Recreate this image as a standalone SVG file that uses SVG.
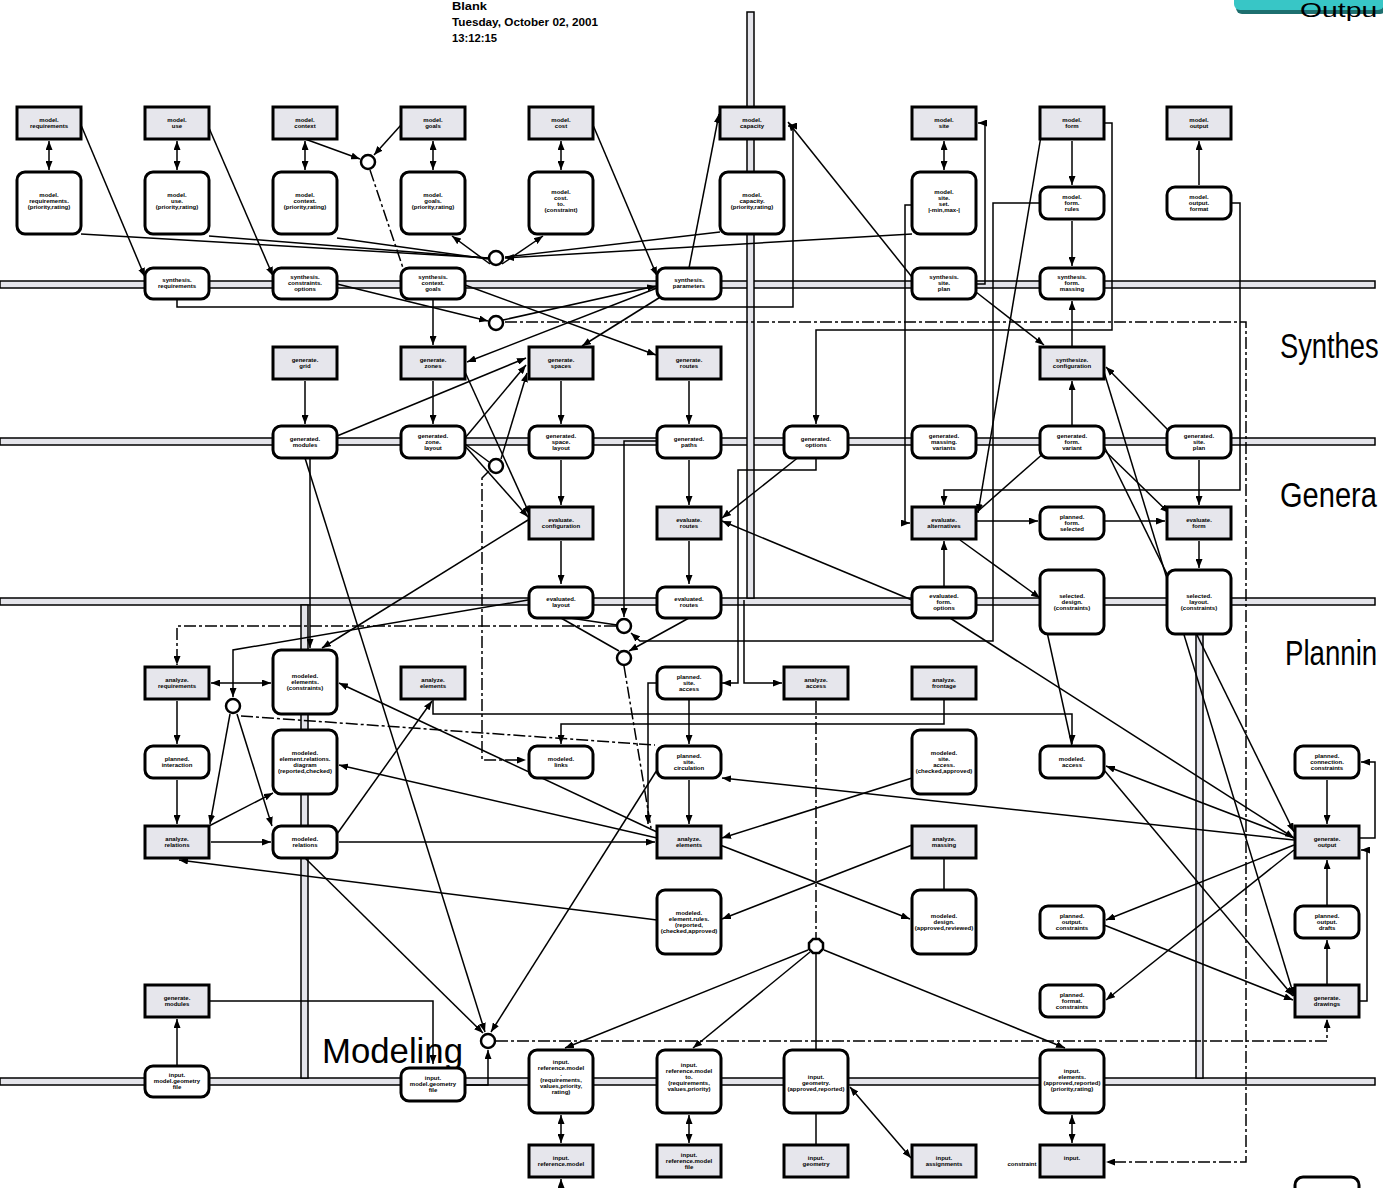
<svg xmlns="http://www.w3.org/2000/svg" width="1383" height="1188" viewBox="0 0 1383 1188">
<defs>
<marker id="a" markerUnits="userSpaceOnUse" markerWidth="9" markerHeight="7" refX="9" refY="3.5" orient="auto-start-reverse"><path d="M0,0 L9,3.5 L0,7 z" fill="#000"/></marker>
</defs>
<style>
.r{fill:#e6e6ec;stroke:#000;stroke-width:3}
.n{fill:#fff;stroke:#000;stroke-width:3}
.o{fill:#fff;stroke:#000;stroke-width:2.5}
.c{fill:none;stroke:#000;stroke-width:1.5}
.d{stroke-dasharray:12 3 3 3}
.band{fill:#e4e4ea;stroke:#000;stroke-width:1.5}
.t{font-family:"Liberation Sans",Arial,sans-serif;font-weight:bold;font-size:6px;text-anchor:middle;fill:#000}
.h{font-family:"Liberation Sans",Arial,sans-serif;font-weight:bold;font-size:11px;fill:#000}
.L{font-family:"Liberation Sans",Arial,sans-serif;font-size:35px;fill:#000}
</style>
<rect width="1383" height="1188" fill="#fff"/>

<g id="bands">
<rect class="band" x="0" y="281" width="1375" height="7"/>
<rect class="band" x="0" y="438" width="1375" height="7"/>
<rect class="band" x="0" y="598" width="1375" height="7"/>
<rect class="band" x="0" y="1078" width="1375" height="7"/>
<rect class="band" x="747" y="12" width="7" height="586"/>
<rect class="band" x="301" y="605" width="7" height="473"/>
<rect class="band" x="1196" y="634" width="7" height="444"/>
</g>

<g id="header">
<text class="h" x="452" y="10" textLength="35" lengthAdjust="spacingAndGlyphs">Blank</text>
<text class="h" x="452" y="26" textLength="146" lengthAdjust="spacingAndGlyphs">Tuesday, October 02, 2001</text>
<text class="h" x="452" y="42" textLength="45" lengthAdjust="spacingAndGlyphs">13:12:15</text>
<rect x="1236" y="-8" width="150" height="22" rx="6" fill="#1d6f6f"/>
<rect x="1234" y="-10" width="150" height="20" rx="6" fill="#38c6c6"/>
<text class="L" transform="translate(1300,17) scale(1.35,1)" style="font-size:21px">Outpu</text>
<text class="L" transform="translate(1280,358) scale(0.78,1)">Synthes</text>
<text class="L" transform="translate(1280,507) scale(0.83,1)">Genera</text>
<text class="L" transform="translate(1285,665) scale(0.79,1)">Plannin</text>
<text class="L" x="322" y="1063" textLength="141" lengthAdjust="spacingAndGlyphs">Modeling</text>
</g>

<g id="connectors">
<path class="c" d="M49,141 L49,170" marker-start="url(#a)" marker-end="url(#a)"/>
<path class="c" d="M177,141 L177,170" marker-start="url(#a)" marker-end="url(#a)"/>
<path class="c" d="M305,141 L305,170" marker-start="url(#a)" marker-end="url(#a)"/>
<path class="c" d="M433,141 L433,170" marker-start="url(#a)" marker-end="url(#a)"/>
<path class="c" d="M561,141 L561,170" marker-start="url(#a)" marker-end="url(#a)"/>
<path class="c" d="M944,141 L944,170" marker-start="url(#a)" marker-end="url(#a)"/>
<path class="c" d="M1072,141 L1072,185" marker-end="url(#a)"/>
<path class="c" d="M1199,185 L1199,141" marker-end="url(#a)"/>
<path class="c" d="M1072,221 L1072,266" marker-end="url(#a)"/>
<path class="c" d="M81,125 L145,277" marker-end="url(#a)"/>
<path class="c" d="M209,128 L273,276" marker-end="url(#a)"/>
<path class="c" d="M305,139 L360,159" marker-end="url(#a)"/>
<path class="c" d="M401,125 L374,155" marker-end="url(#a)"/>
<path class="c d" d="M370,170 L403,268"/>
<path class="c" d="M593,125 L657,276" marker-end="url(#a)"/>
<path class="c" d="M689,268 L719,114" marker-end="url(#a)"/>
<path class="c" d="M912,277 L788,122" marker-end="url(#a)"/>
<path class="c" d="M177,300 L177,307 L793,307 L793,126 L788,126" marker-end="url(#a)"/>
<path class="c" d="M81,234 L488,258"/>
<path class="c" d="M209,236 L488,258"/>
<path class="c" d="M337,238 L488,259"/>
<path class="c" d="M490,264 L452,236" marker-end="url(#a)"/>
<path class="c" d="M502,264 L543,236" marker-end="url(#a)"/>
<path class="c" d="M720,232 L505,257"/>
<path class="c" d="M912,234 L505,258" marker-end="url(#a)"/>
<path class="c" d="M337,284 L488,321" marker-end="url(#a)"/>
<path class="c" d="M503,320 L656,286" marker-end="url(#a)"/>
<path class="c" d="M465,285 L656,355" marker-end="url(#a)"/>
<path class="c" d="M657,288 L467,362" marker-end="url(#a)"/>
<path class="c" d="M662,296 L582,346" marker-end="url(#a)"/>
<path class="c" d="M433,300 L433,345" marker-end="url(#a)"/>
<path class="c d" d="M505,322 L1246,322 L1246,1162 L1106,1162" marker-end="url(#a)"/>
<path class="c" d="M976,284 L985,284 L985,123 L978,123" marker-end="url(#a)"/>
<path class="c" d="M1040,203 L993,203 L993,641 L640,641 L631,633" marker-end="url(#a)"/>
<path class="c" d="M912,205 L905,205 L905,523 L910,523" marker-end="url(#a)"/>
<path class="c" d="M1231,203 L1240,203 L1240,490 L944,490 L944,505" marker-end="url(#a)"/>
<path class="c" d="M1104,123 L1112,123 L1112,330 L816,330 L816,424" marker-end="url(#a)"/>
<path class="c" d="M1042,130 L978,513" marker-end="url(#a)"/>
<path class="c" d="M976,292 L1044,345" marker-end="url(#a)"/>
<path class="c" d="M1072,347 L1072,301" marker-end="url(#a)"/>
<path class="c" d="M1072,426 L1072,381" marker-end="url(#a)"/>
<path class="c" d="M1170,432 L1106,367" marker-end="url(#a)"/>
<path class="c" d="M1104,372 L1294,996" marker-end="url(#a)"/>
<path class="c" d="M1104,450 L1169,513" marker-end="url(#a)"/>
<path class="c" d="M1104,446 L1294,832" marker-end="url(#a)"/>
<path class="c" d="M1199,460 L1199,505" marker-end="url(#a)"/>
<path class="c" d="M305,381 L305,424" marker-end="url(#a)"/>
<path class="c" d="M433,381 L433,424" marker-end="url(#a)"/>
<path class="c" d="M561,381 L561,424" marker-end="url(#a)"/>
<path class="c" d="M689,381 L689,424" marker-end="url(#a)"/>
<path class="c" d="M337,436 L526,358" marker-end="url(#a)"/>
<path class="c" d="M465,438 L526,365" marker-end="url(#a)"/>
<path class="c" d="M465,372 L530,515" marker-end="url(#a)"/>
<path class="c" d="M465,446 L528,517" marker-end="url(#a)"/>
<path class="c" d="M465,444 L489,462"/>
<path class="c" d="M501,459 L527,373" marker-end="url(#a)"/>
<path class="c d" d="M489,471 L482,478 L482,760 L526,760" marker-end="url(#a)"/>
<path class="c" d="M657,441 L624,441 L624,617" marker-end="url(#a)"/>
<path class="c" d="M561,460 L561,505" marker-end="url(#a)"/>
<path class="c" d="M689,460 L689,505" marker-end="url(#a)"/>
<path class="c" d="M561,541 L561,584" marker-end="url(#a)"/>
<path class="c" d="M689,541 L689,584" marker-end="url(#a)"/>
<path class="c" d="M800,456 L722,518" marker-end="url(#a)"/>
<path class="c" d="M976,521 L1038,521" marker-end="url(#a)"/>
<path class="c" d="M1104,521 L1165,521" marker-end="url(#a)"/>
<path class="c" d="M977,512 L1045,452"/>
<path class="c" d="M1199,541 L1199,568" marker-end="url(#a)"/>
<path class="c" d="M944,586 L944,541" marker-end="url(#a)"/>
<path class="c" d="M960,540 L1040,598" marker-end="url(#a)"/>
<path class="c" d="M912,600 L722,521" marker-end="url(#a)"/>
<path class="c" d="M950,618 L1294,838" marker-end="url(#a)"/>
<path class="c" d="M561,618 L619,651"/>
<path class="c" d="M689,618 L629,651" marker-end="url(#a)"/>
<path class="c" d="M570,618 L617,625"/>
<path class="c d" d="M616,626 L177,626 L177,665" marker-end="url(#a)"/>
<path class="c d" d="M624,666 L651,828"/>
<path class="c" d="M816,458 L816,470 L738,470 L738,683 L722,683" marker-end="url(#a)"/>
<path class="c" d="M744,600 L744,683 L782,683" marker-end="url(#a)"/>
<path class="c" d="M657,683 L648,683 L648,824" marker-end="url(#a)"/>
<path class="c" d="M177,701 L177,744" marker-end="url(#a)"/>
<path class="c" d="M177,780 L177,824" marker-end="url(#a)"/>
<path class="c" d="M211,683 L271,683" marker-start="url(#a)" marker-end="url(#a)"/>
<path class="c" d="M528,520 L322,648" marker-end="url(#a)"/>
<path class="c" d="M528,600 L233,650 L233,697" marker-end="url(#a)"/>
<path class="c" d="M230,714 L210,824" marker-end="url(#a)"/>
<path class="c" d="M237,714 L272,826" marker-end="url(#a)"/>
<path class="c d" d="M241,716 L655,745"/>
<path class="c" d="M310,458 L310,648" marker-end="url(#a)"/>
<path class="c" d="M657,832 L339,683" marker-end="url(#a)"/>
<path class="c" d="M657,838 L339,765" marker-end="url(#a)"/>
<path class="c" d="M209,826 L273,793" marker-end="url(#a)"/>
<path class="c" d="M211,842 L271,842" marker-end="url(#a)"/>
<path class="c" d="M339,842 L655,842" marker-end="url(#a)"/>
<path class="c" d="M337,834 L432,701" marker-end="url(#a)"/>
<path class="c" d="M433,699 L433,714 L1072,714 L1072,744" marker-end="url(#a)"/>
<path class="c" d="M944,699 L944,724 L561,724 L561,744" marker-end="url(#a)"/>
<path class="c" d="M305,458 L485,1032" marker-end="url(#a)"/>
<path class="c" d="M305,858 L483,1033" marker-end="url(#a)"/>
<path class="c" d="M657,770 L491,1032" marker-end="url(#a)"/>
<path class="c" d="M657,920 L179,860" marker-end="url(#a)"/>
<path class="c" d="M689,780 L689,824" marker-end="url(#a)"/>
<path class="c" d="M689,699 L689,744" marker-end="url(#a)"/>
<path class="c" d="M912,778 L722,838" marker-end="url(#a)"/>
<path class="c" d="M720,845 L910,919" marker-end="url(#a)"/>
<path class="c" d="M912,845 L722,919" marker-end="url(#a)"/>
<path class="c" d="M944,858 L944,890"/>
<path class="c" d="M1294,840 L722,778" marker-end="url(#a)"/>
<path class="c" d="M1294,838 L1106,766" marker-end="url(#a)"/>
<path class="c" d="M1294,845 L1106,920" marker-end="url(#a)"/>
<path class="c" d="M1294,850 L1106,1000" marker-end="url(#a)"/>
<path class="c" d="M1104,925 L1293,1000" marker-end="url(#a)"/>
<path class="c" d="M1104,770 L1293,996" marker-end="url(#a)"/>
<path class="c" d="M1327,780 L1327,824" marker-end="url(#a)"/>
<path class="c" d="M1327,906 L1327,860" marker-end="url(#a)"/>
<path class="c" d="M1327,985 L1327,940" marker-end="url(#a)"/>
<path class="c" d="M1359,1001 L1367,1001 L1367,850 L1361,850" marker-end="url(#a)"/>
<path class="c" d="M1359,838 L1375,838 L1375,762 L1361,762" marker-end="url(#a)"/>
<path class="c" d="M1072,746 L1040,600"/>
<path class="c d" d="M816,701 L816,938"/>
<path class="c" d="M816,954 L816,1050"/>
<path class="c" d="M808,950 L565,1048" marker-end="url(#a)"/>
<path class="c" d="M810,952 L693,1048" marker-end="url(#a)"/>
<path class="c" d="M824,950 L1065,1048" marker-end="url(#a)"/>
<path class="c" d="M209,1001 L433,1001 L433,1064" marker-end="url(#a)"/>
<path class="c" d="M177,1066 L177,1019" marker-end="url(#a)"/>
<path class="c" d="M465,1085 L488,1085 L488,1050" marker-end="url(#a)"/>
<path class="c d" d="M496,1041 L1327,1041 L1327,1019" marker-end="url(#a)"/>
<path class="c" d="M561,1115 L561,1143" marker-start="url(#a)" marker-end="url(#a)"/>
<path class="c" d="M689,1115 L689,1143" marker-start="url(#a)" marker-end="url(#a)"/>
<path class="c" d="M816,1113 L816,1145"/>
<path class="c" d="M1072,1115 L1072,1143" marker-start="url(#a)" marker-end="url(#a)"/>
<path class="c" d="M850,1087 L911,1158" marker-start="url(#a)" marker-end="url(#a)"/>
<path class="c" d="M561,1188 L561,1179" marker-end="url(#a)"/>
</g>

<g id="junctions">
<circle class="o" cx="368" cy="162" r="7"/>
<circle class="o" cx="496" cy="258" r="7"/>
<circle class="o" cx="496" cy="323" r="7"/>
<circle class="o" cx="496" cy="466" r="7"/>
<circle class="o" cx="624" cy="626" r="7"/>
<circle class="o" cx="624" cy="658" r="7"/>
<circle class="o" cx="233" cy="706" r="7"/>
<circle class="o" cx="488" cy="1041" r="7"/>
<polygon class="o" points="813,939 819,939 823,943 823,949 819,953 813,953 809,949 809,943"/>
</g>

<g id="r1a"><rect class="r" x="17" y="107" width="64" height="32"/><text class="t" x="49" y="122">model.<tspan x="49" dy="6">requirements</tspan></text></g>
<g id="r1b"><rect class="r" x="145" y="107" width="64" height="32"/><text class="t" x="177" y="122">model.<tspan x="177" dy="6">use</tspan></text></g>
<g id="r1c"><rect class="r" x="273" y="107" width="64" height="32"/><text class="t" x="305" y="122">model.<tspan x="305" dy="6">context</tspan></text></g>
<g id="r1d"><rect class="r" x="401" y="107" width="64" height="32"/><text class="t" x="433" y="122">model.<tspan x="433" dy="6">goals</tspan></text></g>
<g id="r1e"><rect class="r" x="529" y="107" width="64" height="32"/><text class="t" x="561" y="122">model.<tspan x="561" dy="6">cost</tspan></text></g>
<g id="r1f"><rect class="r" x="720" y="107" width="64" height="32"/><text class="t" x="752" y="122">model.<tspan x="752" dy="6">capacity</tspan></text></g>
<g id="r1g"><rect class="r" x="912" y="107" width="64" height="32"/><text class="t" x="944" y="122">model.<tspan x="944" dy="6">site</tspan></text></g>
<g id="r1h"><rect class="r" x="1040" y="107" width="64" height="32"/><text class="t" x="1072" y="122">model.<tspan x="1072" dy="6">form</tspan></text></g>
<g id="r1i"><rect class="r" x="1167" y="107" width="64" height="32"/><text class="t" x="1199" y="122">model.<tspan x="1199" dy="6">output</tspan></text></g>

<g id="m1a"><rect class="n" x="17" y="172" width="64" height="62" rx="8"/><text class="t" x="49" y="197">model.<tspan x="49" dy="6">requirements.</tspan><tspan x="49" dy="6">(priority,rating)</tspan></text></g>
<g id="m1b"><rect class="n" x="145" y="172" width="64" height="62" rx="8"/><text class="t" x="177" y="197">model.<tspan x="177" dy="6">use.</tspan><tspan x="177" dy="6">(priority,rating)</tspan></text></g>
<g id="m1c"><rect class="n" x="273" y="172" width="64" height="62" rx="8"/><text class="t" x="305" y="197">model.<tspan x="305" dy="6">context.</tspan><tspan x="305" dy="6">(priority,rating)</tspan></text></g>
<g id="m1d"><rect class="n" x="401" y="172" width="64" height="62" rx="8"/><text class="t" x="433" y="197">model.<tspan x="433" dy="6">goals.</tspan><tspan x="433" dy="6">(priority,rating)</tspan></text></g>
<g id="m1e"><rect class="n" x="529" y="172" width="64" height="62" rx="8"/><text class="t" x="561" y="194">model.<tspan x="561" dy="6">cost.</tspan><tspan x="561" dy="6">to.</tspan><tspan x="561" dy="6">(constraint)</tspan></text></g>
<g id="m1f"><rect class="n" x="720" y="172" width="64" height="62" rx="8"/><text class="t" x="752" y="197">model.<tspan x="752" dy="6">capacity.</tspan><tspan x="752" dy="6">(priority,rating)</tspan></text></g>
<g id="m1g"><rect class="n" x="912" y="172" width="64" height="62" rx="8"/><text class="t" x="944" y="194">model.<tspan x="944" dy="6">site.</tspan><tspan x="944" dy="6">set.</tspan><tspan x="944" dy="6">|-min,max-|</tspan></text></g>
<g id="m1h"><rect class="n" x="1040" y="187" width="64" height="32" rx="8"/><text class="t" x="1072" y="199">model.<tspan x="1072" dy="6">form.</tspan><tspan x="1072" dy="6">rules</tspan></text></g>
<g id="m1i"><rect class="n" x="1167" y="187" width="64" height="32" rx="8"/><text class="t" x="1199" y="199">model.<tspan x="1199" dy="6">output.</tspan><tspan x="1199" dy="6">format</tspan></text></g>

<g id="s2a"><rect class="n" x="145" y="268" width="64" height="31" rx="8"/><text class="t" x="177" y="282">synthesis.<tspan x="177" dy="6">requirements</tspan></text></g>
<g id="s2b"><rect class="n" x="273" y="268" width="64" height="31" rx="8"/><text class="t" x="305" y="279">synthesis.<tspan x="305" dy="6">constraints.</tspan><tspan x="305" dy="6">options</tspan></text></g>
<g id="s2c"><rect class="n" x="401" y="268" width="64" height="31" rx="8"/><text class="t" x="433" y="279">synthesis.<tspan x="433" dy="6">context.</tspan><tspan x="433" dy="6">goals</tspan></text></g>
<g id="s2d"><rect class="n" x="657" y="268" width="64" height="31" rx="8"/><text class="t" x="689" y="282">synthesis.<tspan x="689" dy="6">parameters</tspan></text></g>
<g id="s2e"><rect class="n" x="912" y="268" width="64" height="31" rx="8"/><text class="t" x="944" y="279">synthesis.<tspan x="944" dy="6">site.</tspan><tspan x="944" dy="6">plan</tspan></text></g>
<g id="s2f"><rect class="n" x="1040" y="268" width="64" height="31" rx="8"/><text class="t" x="1072" y="279">synthesis.<tspan x="1072" dy="6">form.</tspan><tspan x="1072" dy="6">massing</tspan></text></g>

<g id="r3a"><rect class="r" x="273" y="347" width="64" height="32"/><text class="t" x="305" y="362">generate.<tspan x="305" dy="6">grid</tspan></text></g>
<g id="r3b"><rect class="r" x="401" y="347" width="64" height="32"/><text class="t" x="433" y="362">generate.<tspan x="433" dy="6">zones</tspan></text></g>
<g id="r3c"><rect class="r" x="529" y="347" width="64" height="32"/><text class="t" x="561" y="362">generate.<tspan x="561" dy="6">spaces</tspan></text></g>
<g id="r3d"><rect class="r" x="657" y="347" width="64" height="32"/><text class="t" x="689" y="362">generate.<tspan x="689" dy="6">routes</tspan></text></g>
<g id="r3e"><rect class="r" x="1040" y="347" width="64" height="32"/><text class="t" x="1072" y="362">synthesize.<tspan x="1072" dy="6">configuration</tspan></text></g>

<g id="g4a"><rect class="n" x="273" y="426" width="64" height="32" rx="8"/><text class="t" x="305" y="441">generated.<tspan x="305" dy="6">modules</tspan></text></g>
<g id="g4b"><rect class="n" x="401" y="426" width="64" height="32" rx="8"/><text class="t" x="433" y="438">generated.<tspan x="433" dy="6">zone.</tspan><tspan x="433" dy="6">layout</tspan></text></g>
<g id="g4c"><rect class="n" x="529" y="426" width="64" height="32" rx="8"/><text class="t" x="561" y="438">generated.<tspan x="561" dy="6">space.</tspan><tspan x="561" dy="6">layout</tspan></text></g>
<g id="g4d"><rect class="n" x="657" y="426" width="64" height="32" rx="8"/><text class="t" x="689" y="441">generated.<tspan x="689" dy="6">paths</tspan></text></g>
<g id="g4e"><rect class="n" x="784" y="426" width="64" height="32" rx="8"/><text class="t" x="816" y="441">generated.<tspan x="816" dy="6">options</tspan></text></g>
<g id="g4f"><rect class="n" x="912" y="426" width="64" height="32" rx="8"/><text class="t" x="944" y="438">generated.<tspan x="944" dy="6">massing.</tspan><tspan x="944" dy="6">variants</tspan></text></g>
<g id="g4g"><rect class="n" x="1040" y="426" width="64" height="32" rx="8"/><text class="t" x="1072" y="438">generated.<tspan x="1072" dy="6">form.</tspan><tspan x="1072" dy="6">variant</tspan></text></g>
<g id="g4h"><rect class="n" x="1167" y="426" width="64" height="32" rx="8"/><text class="t" x="1199" y="438">generated.<tspan x="1199" dy="6">site.</tspan><tspan x="1199" dy="6">plan</tspan></text></g>

<g id="r5a"><rect class="r" x="529" y="507" width="64" height="32"/><text class="t" x="561" y="522">evaluate.<tspan x="561" dy="6">configuration</tspan></text></g>
<g id="r5b"><rect class="r" x="657" y="507" width="64" height="32"/><text class="t" x="689" y="522">evaluate.<tspan x="689" dy="6">routes</tspan></text></g>
<g id="r5c"><rect class="r" x="912" y="507" width="64" height="32"/><text class="t" x="944" y="522">evaluate.<tspan x="944" dy="6">alternatives</tspan></text></g>
<g id="p5d"><rect class="n" x="1040" y="507" width="64" height="32" rx="8"/><text class="t" x="1072" y="519">planned.<tspan x="1072" dy="6">form.</tspan><tspan x="1072" dy="6">selected</tspan></text></g>
<g id="r5e"><rect class="r" x="1167" y="507" width="64" height="32"/><text class="t" x="1199" y="522">evaluate.<tspan x="1199" dy="6">form</tspan></text></g>

<g id="e6a"><rect class="n" x="529" y="587" width="64" height="31" rx="8"/><text class="t" x="561" y="601">evaluated.<tspan x="561" dy="6">layout</tspan></text></g>
<g id="e6b"><rect class="n" x="657" y="587" width="64" height="31" rx="8"/><text class="t" x="689" y="601">evaluated.<tspan x="689" dy="6">routes</tspan></text></g>
<g id="e6c"><rect class="n" x="912" y="587" width="64" height="31" rx="8"/><text class="t" x="944" y="598">evaluated.<tspan x="944" dy="6">form.</tspan><tspan x="944" dy="6">options</tspan></text></g>
<g id="e6d"><rect class="n" x="1040" y="570" width="64" height="64" rx="8"/><text class="t" x="1072" y="598">selected.<tspan x="1072" dy="6">design.</tspan><tspan x="1072" dy="6">(constraints)</tspan></text></g>
<g id="e6e"><rect class="n" x="1167" y="570" width="64" height="64" rx="8"/><text class="t" x="1199" y="598">selected.<tspan x="1199" dy="6">layout.</tspan><tspan x="1199" dy="6">(constraints)</tspan></text></g>

<g id="r7a"><rect class="r" x="145" y="667" width="64" height="32"/><text class="t" x="177" y="682">analyze.<tspan x="177" dy="6">requirements</tspan></text></g>
<g id="m7b"><rect class="n" x="273" y="650" width="64" height="64" rx="8"/><text class="t" x="305" y="678">modeled.<tspan x="305" dy="6">elements.</tspan><tspan x="305" dy="6">(constraints)</tspan></text></g>
<g id="r7c"><rect class="r" x="401" y="667" width="64" height="32"/><text class="t" x="433" y="682">analyze.<tspan x="433" dy="6">elements</tspan></text></g>
<g id="p7d"><rect class="n" x="657" y="667" width="64" height="32" rx="8"/><text class="t" x="689" y="679">planned.<tspan x="689" dy="6">site.</tspan><tspan x="689" dy="6">access</tspan></text></g>
<g id="r7e"><rect class="r" x="784" y="667" width="64" height="32"/><text class="t" x="816" y="682">analyze.<tspan x="816" dy="6">access</tspan></text></g>
<g id="r7f"><rect class="r" x="912" y="667" width="64" height="32"/><text class="t" x="944" y="682">analyze.<tspan x="944" dy="6">frontage</tspan></text></g>

<g id="p8a"><rect class="n" x="145" y="746" width="64" height="32" rx="8"/><text class="t" x="177" y="761">planned.<tspan x="177" dy="6">interaction</tspan></text></g>
<g id="m8b"><rect class="n" x="273" y="730" width="64" height="64" rx="8"/><text class="t" x="305" y="755">modeled.<tspan x="305" dy="6">element.relations.</tspan><tspan x="305" dy="6">diagram</tspan><tspan x="305" dy="6">(reported,checked)</tspan></text></g>
<g id="m8c"><rect class="n" x="529" y="746" width="64" height="32" rx="8"/><text class="t" x="561" y="761">modeled.<tspan x="561" dy="6">links</tspan></text></g>
<g id="p8d"><rect class="n" x="657" y="746" width="64" height="32" rx="8"/><text class="t" x="689" y="758">planned.<tspan x="689" dy="6">site.</tspan><tspan x="689" dy="6">circulation</tspan></text></g>
<g id="m8e"><rect class="n" x="912" y="730" width="64" height="64" rx="8"/><text class="t" x="944" y="755">modeled.<tspan x="944" dy="6">site.</tspan><tspan x="944" dy="6">access.</tspan><tspan x="944" dy="6">(checked,approved)</tspan></text></g>
<g id="m8f"><rect class="n" x="1040" y="746" width="64" height="32" rx="8"/><text class="t" x="1072" y="761">modeled.<tspan x="1072" dy="6">access</tspan></text></g>
<g id="p8g"><rect class="n" x="1295" y="746" width="64" height="32" rx="8"/><text class="t" x="1327" y="758">planned.<tspan x="1327" dy="6">connection.</tspan><tspan x="1327" dy="6">constraints</tspan></text></g>

<g id="r9a"><rect class="r" x="145" y="826" width="64" height="32"/><text class="t" x="177" y="841">analyze.<tspan x="177" dy="6">relations</tspan></text></g>
<g id="m9b"><rect class="n" x="273" y="826" width="64" height="32" rx="8"/><text class="t" x="305" y="841">modeled.<tspan x="305" dy="6">relations</tspan></text></g>
<g id="r9c"><rect class="r" x="657" y="826" width="64" height="32"/><text class="t" x="689" y="841">analyze.<tspan x="689" dy="6">elements</tspan></text></g>
<g id="r9d"><rect class="r" x="912" y="826" width="64" height="32"/><text class="t" x="944" y="841">analyze.<tspan x="944" dy="6">massing</tspan></text></g>
<g id="r9e"><rect class="r" x="1295" y="826" width="64" height="32"/><text class="t" x="1327" y="841">generate.<tspan x="1327" dy="6">output</tspan></text></g>

<g id="m10a"><rect class="n" x="657" y="890" width="64" height="64" rx="8"/><text class="t" x="689" y="915">modeled.<tspan x="689" dy="6">element.rules.</tspan><tspan x="689" dy="6">(reported,</tspan><tspan x="689" dy="6">(checked,approved)</tspan></text></g>
<g id="m10b"><rect class="n" x="912" y="890" width="64" height="64" rx="8"/><text class="t" x="944" y="918">modeled.<tspan x="944" dy="6">design.</tspan><tspan x="944" dy="6">(approved,reviewed)</tspan></text></g>
<g id="p10c"><rect class="n" x="1040" y="906" width="64" height="32" rx="8"/><text class="t" x="1072" y="918">planned.<tspan x="1072" dy="6">output.</tspan><tspan x="1072" dy="6">constraints</tspan></text></g>
<g id="p10d"><rect class="n" x="1295" y="906" width="64" height="32" rx="8"/><text class="t" x="1327" y="918">planned.<tspan x="1327" dy="6">output.</tspan><tspan x="1327" dy="6">drafts</tspan></text></g>

<g id="r11a"><rect class="r" x="145" y="985" width="64" height="32"/><text class="t" x="177" y="1000">generate.<tspan x="177" dy="6">modules</tspan></text></g>
<g id="p11b"><rect class="n" x="1040" y="985" width="64" height="32" rx="8"/><text class="t" x="1072" y="997">planned.<tspan x="1072" dy="6">format.</tspan><tspan x="1072" dy="6">constraints</tspan></text></g>
<g id="r11c"><rect class="r" x="1295" y="985" width="64" height="32"/><text class="t" x="1327" y="1000">generate.<tspan x="1327" dy="6">drawings</tspan></text></g>

<g id="i12a"><rect class="n" x="145" y="1066" width="64" height="31" rx="8"/><text class="t" x="177" y="1077">input.<tspan x="177" dy="6">model.geometry</tspan><tspan x="177" dy="6">file</tspan></text></g>
<g id="i12b"><rect class="n" x="401" y="1068" width="64" height="33" rx="8"/><text class="t" x="433" y="1080">input.<tspan x="433" dy="6">model.geometry</tspan><tspan x="433" dy="6">file</tspan></text></g>
<g id="i12c"><rect class="n" x="529" y="1050" width="64" height="63" rx="8"/><text class="t" x="561" y="1064">input.<tspan x="561" dy="6">reference.model</tspan><tspan x="561" dy="6">.</tspan><tspan x="561" dy="6">(requirements,</tspan><tspan x="561" dy="6">values,priority,</tspan><tspan x="561" dy="6">rating)</tspan></text></g>
<g id="i12d"><rect class="n" x="657" y="1050" width="64" height="63" rx="8"/><text class="t" x="689" y="1067">input.<tspan x="689" dy="6">reference.model</tspan><tspan x="689" dy="6">to.</tspan><tspan x="689" dy="6">(requirements,</tspan><tspan x="689" dy="6">values,priority)</tspan></text></g>
<g id="i12e"><rect class="n" x="784" y="1050" width="64" height="63" rx="8"/><text class="t" x="816" y="1079">input.<tspan x="816" dy="6">geometry.</tspan><tspan x="816" dy="6">(approved,reported)</tspan></text></g>
<g id="i12f"><rect class="n" x="1040" y="1050" width="64" height="63" rx="8"/><text class="t" x="1072" y="1073">input.<tspan x="1072" dy="6">elements.</tspan><tspan x="1072" dy="6">(approved,reported)</tspan><tspan x="1072" dy="6">(priority,rating)</tspan></text></g>

<g id="r13a"><rect class="r" x="529" y="1145" width="64" height="32"/><text class="t" x="561" y="1160">input.<tspan x="561" dy="6">reference.model</tspan></text></g>
<g id="r13b"><rect class="r" x="657" y="1145" width="64" height="32"/><text class="t" x="689" y="1157">input.<tspan x="689" dy="6">reference.model</tspan><tspan x="689" dy="6">file</tspan></text></g>
<g id="r13c"><rect class="r" x="784" y="1145" width="64" height="32"/><text class="t" x="816" y="1160">input.<tspan x="816" dy="6">geometry</tspan></text></g>
<g id="r13d"><rect class="r" x="912" y="1145" width="64" height="32"/><text class="t" x="944" y="1160">input.<tspan x="944" dy="6">assignments</tspan></text></g>
<g id="r13e"><rect class="r" x="1040" y="1145" width="64" height="32"/><text class="t" x="1072" y="1160">input.</text><text class="t" x="1022" y="1166">constraint</text></g>
<g id="n14"><rect class="n" x="1295" y="1177" width="64" height="32" rx="8"/></g>
</svg>
